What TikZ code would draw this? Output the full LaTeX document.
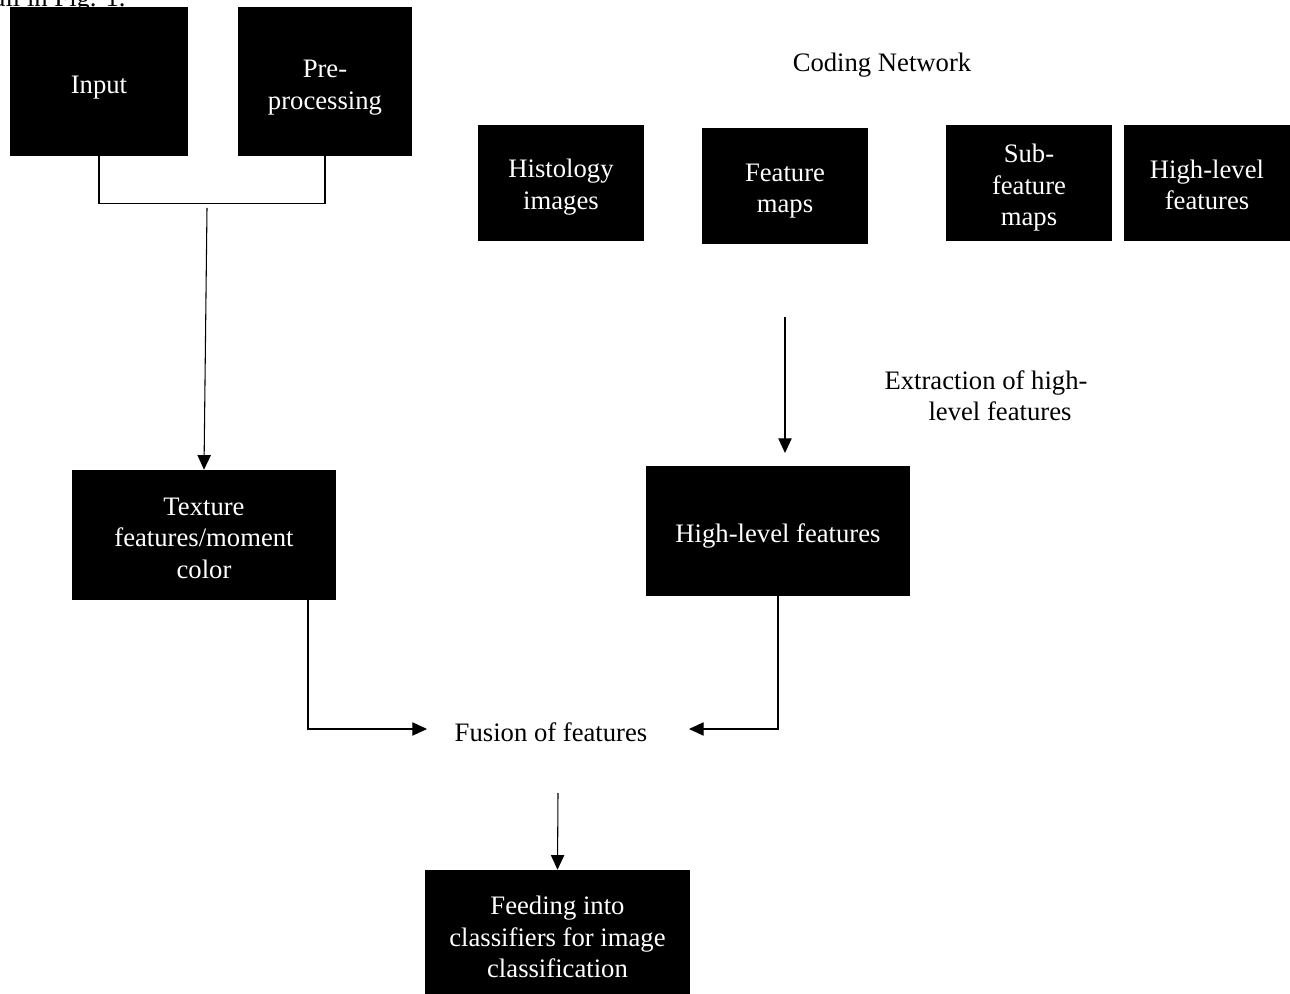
\documentclass[tikz,border=0pt]{standalone}
\usepackage{fontspec}
\setmainfont{Liberation Serif}
\usetikzlibrary{arrows.meta}
\begin{document}
\begin{tikzpicture}[x=0.75pt,y=-0.75pt,
  txt/.style={font=\fontsize{20}{23.6}\selectfont, align=center, inner sep=0pt},
  blk/.style={fill=black, inner sep=0pt},
  wtxt/.style={txt, text=white},
  conn/.style={line width=0.8pt, draw=black},
  arr/.style={conn, -{Triangle[length=11pt,width=10pt]}}]
\useasboundingbox (0,0) rectangle (1290,994);
\clip (0,0) rectangle (1290,994);
% partial header text
\node[txt, anchor=base west] (hdr) at (-14,7) {tail in Fig. 1.};
% left branch
\node[blk, minimum width=178*0.75pt, minimum height=149*0.75pt,
  label={[wtxt, yshift=-6*0.75pt]center:Input}] (inp) at (99,81.5) {};
\node[blk, minimum width=174*0.75pt, minimum height=149*0.75pt,
  label={[wtxt, yshift=-6*0.75pt]center:{Pre-\\processing}}] (pre) at (325,81.5) {};
\node[blk, minimum width=264*0.75pt, minimum height=130*0.75pt,
  label={[wtxt, yshift=-3*0.75pt]center:{Texture\\features/moment\\color}}] (tex) at (204,535) {};
% coding network
\node[txt] (cn) at (882,65) {Coding Network};
\node[blk, minimum width=166*0.75pt, minimum height=116*0.75pt,
  label={[wtxt, yshift=-4*0.75pt]center:{Histology\\images}}] (his) at (561,183) {};
\node[blk, minimum width=166*0.75pt, minimum height=116*0.75pt,
  label={[wtxt, yshift=-5*0.75pt]center:{Feature\\maps}}] (fmap) at (785,186) {};
\node[blk, minimum width=166*0.75pt, minimum height=116*0.75pt,
  label={[wtxt, yshift=-5*0.75pt]center:{Sub-\\feature\\maps}}] (sub) at (1029,183) {};
\node[blk, minimum width=166*0.75pt, minimum height=116*0.75pt,
  label={[wtxt, yshift=-2*0.75pt]center:{High-level\\features}}] (hlt) at (1207,183) {};
\node[txt] (ext) at (986,396) {Extraction of high-\\\hspace*{28\dimexpr 0.75pt\relax}level features};
\node[blk, minimum width=264*0.75pt, minimum height=130*0.75pt,
  label={[wtxt, yshift=-5*0.75pt]center:High-level features}] (hl) at (778,531) {};
% fusion & classification
\node[txt] (fus) at (551,732) {Fusion of features};
\node[blk, minimum width=265*0.75pt, minimum height=134*0.75pt,
  label={[wtxt]center:{Feeding into\\classifiers for image\\classification}}] (feed) at (557.5,937) {};
% connectors
\coordinate (j1) at (207,208);
\coordinate (e1) at (785,317);
\coordinate (e2) at (785,453);
\coordinate (fl) at (427,729);
\coordinate (fr) at (689,729);
\coordinate (fb) at (558,793);
\draw[conn] (inp.south) -- ++(0,47) -| (pre.south);
\draw[arr] (j1) -- (tex.north);
\draw[arr] (e1) -- (e2);
\draw[arr] ([xshift=104*0.75pt]tex.south) |- (fl);
\draw[arr] (hl.south) |- (fr);
\draw[arr] (fb) -- (feed.north);
\end{tikzpicture}
\end{document}
